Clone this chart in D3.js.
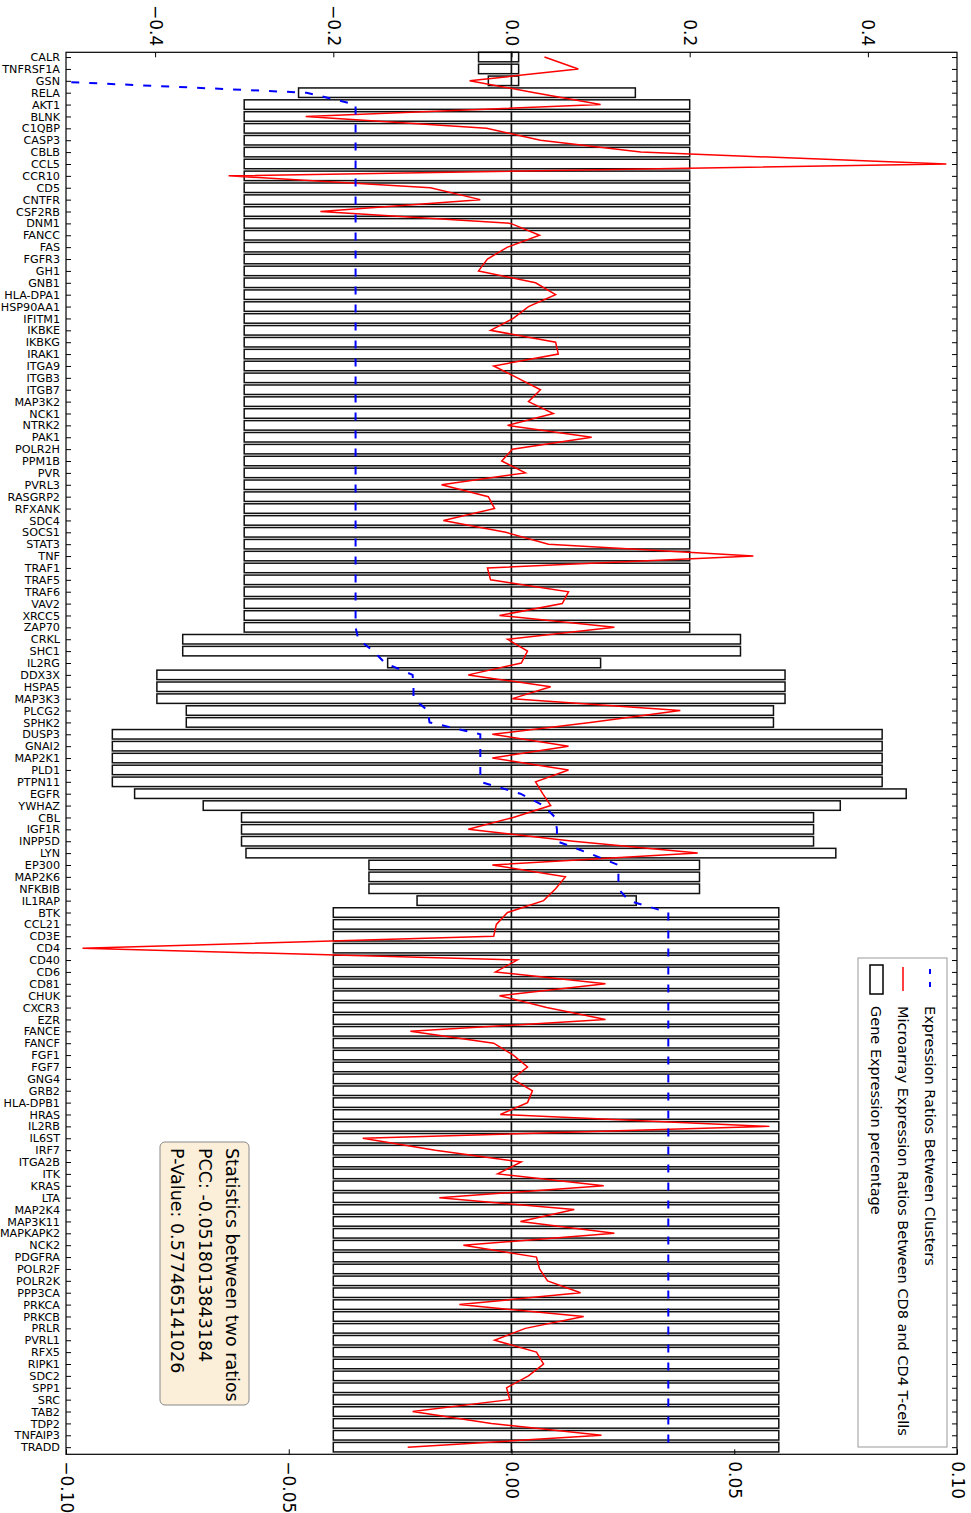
<!DOCTYPE html>
<html>
<head>
<meta charset="utf-8">
<script src="https://cdn.jsdelivr.net/npm/d3@7"></script>
<style>
  body { margin: 0; background: #fff; }
  svg text { font-family: "DejaVu Sans", sans-serif; fill: #000; }
  .geneLabel { font-size: 11.2px; }
  .tickLabel { font-size: 17px; }
  .legendText { font-size: 14.5px; }
  .statText { font-size: 17.5px; }
</style>
</head>
<body>
<div id="canvas"></div>
<script>
"use strict"
// canvas size
let svgWidth = 971;
let svgHeight = 1513;

// plot frame (the chart is drawn rotated: genes run down the page)
let plot = { left: 66, right: 957, top: 52.3, bottom: 1454.3 };

// genes, top to bottom
let genes = ["CALR","TNFRSF1A","GSN","RELA","AKT1","BLNK","C1QBP","CASP3","CBLB","CCL5",
    "CCR10","CD5","CNTFR","CSF2RB","DNM1","FANCC","FAS","FGFR3","GH1","GNB1",
    "HLA-DPA1","HSP90AA1","IFITM1","IKBKE","IKBKG","IRAK1","ITGA9","ITGB3","ITGB7","MAP3K2",
    "NCK1","NTRK2","PAK1","POLR2H","PPM1B","PVR","PVRL3","RASGRP2","RFXANK","SDC4",
    "SOCS1","STAT3","TNF","TRAF1","TRAF5","TRAF6","VAV2","XRCC5","ZAP70","CRKL",
    "SHC1","IL2RG","DDX3X","HSPA5","MAP3K3","PLCG2","SPHK2","DUSP3","GNAI2","MAP2K1",
    "PLD1","PTPN11","EGFR","YWHAZ","CBL","IGF1R","INPP5D","LYN","EP300","MAP2K6",
    "NFKBIB","IL1RAP","BTK","CCL21","CD3E","CD4","CD40","CD6","CD81","CHUK",
    "CXCR3","EZR","FANCE","FANCF","FGF1","FGF7","GNG4","GRB2","HLA-DPB1","HRAS",
    "IL2RB","IL6ST","IRF7","ITGA2B","ITK","KRAS","LTA","MAP2K4","MAP3K11","MAPKAPK2",
    "NCK2","PDGFRA","POLR2F","POLR2K","PPP3CA","PRKCA","PRKCB","PRLR","PVRL1","RFX5",
    "RIPK1","SDC2","SPP1","SRC","TAB2","TDP2","TNFAIP3","TRADD"];

// gene expression percentage bars (top axis): negative part and positive part
let barLow = [-0.037,-0.037,-0.026,-0.239,
    -0.3,-0.3,-0.3,-0.3,-0.3,-0.3,-0.3,-0.3,-0.3,-0.3,
    -0.3,-0.3,-0.3,-0.3,-0.3,-0.3,-0.3,-0.3,-0.3,-0.3,
    -0.3,-0.3,-0.3,-0.3,-0.3,-0.3,-0.3,-0.3,-0.3,-0.3,
    -0.3,-0.3,-0.3,-0.3,-0.3,-0.3,-0.3,-0.3,-0.3,-0.3,
    -0.3,-0.3,-0.3,-0.3,-0.3,
    -0.369,-0.369,-0.139,-0.398,-0.398,-0.398,-0.365,-0.365,
    -0.448,-0.448,-0.448,-0.448,-0.448,-0.423,-0.346,-0.303,-0.303,-0.303,-0.298,
    -0.16,-0.16,-0.16,-0.106,
    -0.2,-0.2,-0.2,-0.2,-0.2,-0.2,-0.2,-0.2,-0.2,-0.2,
    -0.2,-0.2,-0.2,-0.2,-0.2,-0.2,-0.2,-0.2,-0.2,-0.2,
    -0.2,-0.2,-0.2,-0.2,-0.2,-0.2,-0.2,-0.2,-0.2,-0.2,
    -0.2,-0.2,-0.2,-0.2,-0.2,-0.2,-0.2,-0.2,-0.2,-0.2,
    -0.2,-0.2,-0.2,-0.2,-0.2,-0.2];
let barHigh = [0.008,0.008,0.008,0.139,
    0.2,0.2,0.2,0.2,0.2,0.2,0.2,0.2,0.2,0.2,
    0.2,0.2,0.2,0.2,0.2,0.2,0.2,0.2,0.2,0.2,
    0.2,0.2,0.2,0.2,0.2,0.2,0.2,0.2,0.2,0.2,
    0.2,0.2,0.2,0.2,0.2,0.2,0.2,0.2,0.2,0.2,
    0.2,0.2,0.2,0.2,0.2,
    0.257,0.257,0.1,0.307,0.307,0.307,0.294,0.294,
    0.416,0.416,0.416,0.416,0.416,0.443,0.369,0.339,0.339,0.339,0.364,
    0.211,0.211,0.211,0.14,
    0.3,0.3,0.3,0.3,0.3,0.3,0.3,0.3,0.3,0.3,
    0.3,0.3,0.3,0.3,0.3,0.3,0.3,0.3,0.3,0.3,
    0.3,0.3,0.3,0.3,0.3,0.3,0.3,0.3,0.3,0.3,
    0.3,0.3,0.3,0.3,0.3,0.3,0.3,0.3,0.3,0.3,
    0.3,0.3,0.3,0.3,0.3,0.3];

// expression ratios between clusters (blue dashed, top axis)
let clusterRatio = [-0.528,-0.528,-0.528,-0.23,
    -0.175,-0.175,-0.175,-0.175,-0.175,-0.175,-0.175,-0.175,-0.175,-0.175,
    -0.175,-0.175,-0.175,-0.175,-0.175,-0.175,-0.175,-0.175,-0.175,-0.175,
    -0.175,-0.175,-0.175,-0.175,-0.175,-0.175,-0.175,-0.175,-0.175,-0.175,
    -0.175,-0.175,-0.175,-0.175,-0.175,-0.175,-0.175,-0.175,-0.175,-0.175,
    -0.175,-0.175,-0.175,-0.175,-0.175,
    -0.172,-0.155,-0.142,-0.111,-0.11,-0.11,-0.094,-0.092,
    -0.035,-0.035,-0.035,-0.035,-0.035,0.01,0.036,0.049,0.051,0.051,0.0865,
    0.12,0.12,0.12,0.1315,
    0.176,0.176,0.176,0.176,0.176,0.176,0.176,0.176,0.176,0.176,
    0.176,0.176,0.176,0.176,0.176,0.176,0.176,0.176,0.176,0.176,
    0.176,0.176,0.176,0.176,0.176,0.176,0.176,0.176,0.176,0.176,
    0.176,0.176,0.176,0.176,0.176,0.176,0.176,0.176,0.176,0.176,
    0.176,0.176,0.176,0.176,0.176,0.176];

// microarray expression ratios CD8 vs CD4 (red, bottom axis)
let microRatio = [0.0074,0.0150,-0.0094,0.0052,0.0200,-0.0462,-0.0056,0.0065,0.0290,0.0976,
    -0.0635,-0.0182,-0.0070,-0.0429,-0.0002,0.0063,-0.0009,-0.0054,-0.0074,0.0054,
    0.0099,0.0038,0.0004,-0.0047,0.0099,0.0105,-0.0040,0.0013,0.0065,0.0038,
    0.0094,-0.0009,0.0180,0.0002,-0.0022,0.0031,-0.0157,-0.0052,-0.0038,-0.0153,
    -0.0013,0.0083,0.0543,-0.0054,-0.0047,0.0128,0.0114,-0.0027,0.0231,-0.0009,
    0.0036,0.0022,-0.0097,0.0088,0.0002,0.0379,0.0177,-0.0043,0.0128,-0.0043,
    0.0128,0.0054,0.0070,0.0088,0.0004,-0.0097,0.0139,0.0418,-0.0043,0.0121,
    0.0099,0.0072,-0.0009,-0.0034,-0.0040,-0.0963,0.0013,-0.0036,0.0211,-0.0027,
    0.0079,0.0211,-0.0227,-0.0040,0.0004,0.0036,0.0002,0.0047,0.0036,-0.0025,
    0.0579,-0.0334,-0.0171,0.0022,-0.0031,0.0207,-0.0162,0.0141,0.0020,0.0231,
    -0.0108,0.0056,0.0063,0.0081,0.0155,-0.0117,0.0162,0.0031,-0.0038,0.0056,
    0.0072,0.0038,-0.0011,-0.0004,-0.0222,-0.0045,0.0202,-0.0233];

let topTicks = [-0.4, -0.2, 0.0, 0.2, 0.4];
let bottomTicks = [-0.10, -0.05, 0.00, 0.05, 0.10];

let legendLabels = ["Expression Ratios Between Clusters",
    "Microarray Expression Ratios Between CD8 and CD4 T-cells",
    "Gene Expression percentage"];
let statLines = ["Statistics between two ratios",
    "PCC: -0.0518013843184",
    "P-Value: 0.577465141026"];

let svg = d3.select("#canvas")
    .append("svg")
    .attr("width", svgWidth)
    .attr("height", svgHeight);

svg.append("rect")
    .attr("width", svgWidth)
    .attr("height", svgHeight)
    .attr("fill", "#ffffff");

// scales
let xTop = d3.scaleLinear().domain([-0.5, 0.5]).range([plot.left, plot.right]);
let xBottom = d3.scaleLinear().domain([-0.1, 0.1]).range([plot.left, plot.right]);
let yRow = d3.scaleLinear().domain([0, genes.length]).range([plot.top, plot.bottom]);

let rowData = genes.map(function(g, i){
    return { gene: g, i: i, low: barLow[i], high: barHigh[i],
             cluster: clusterRatio[i], micro: microRatio[i] };
});

svg.append("defs").append("clipPath")
    .attr("id", "plotClip")
    .append("rect")
    .attr("x", plot.left).attr("y", plot.top)
    .attr("width", plot.right - plot.left)
    .attr("height", plot.bottom - plot.top);

// bars: one for the negative part, one for the positive part
let barH = yRow(0.8) - yRow(0);
let bars = svg.append("g");
bars.selectAll(".barLow")
    .data(rowData)
    .join("rect")
    .attr("x", d => xTop(d.low))
    .attr("y", d => yRow(d.i))
    .attr("width", d => xTop(0) - xTop(d.low))
    .attr("height", barH)
    .attr("fill", "#fff")
    .attr("stroke", "#111")
    .attr("stroke-width", 1.5);
bars.selectAll(".barHigh")
    .data(rowData)
    .join("rect")
    .attr("x", xTop(0))
    .attr("y", d => yRow(d.i))
    .attr("width", d => xTop(d.high) - xTop(0))
    .attr("height", barH)
    .attr("fill", "#fff")
    .attr("stroke", "#111")
    .attr("stroke-width", 1.5);

// lines
let lines = svg.append("g").attr("clip-path", "url(#plotClip)");

let microLine = d3.line()
    .x(d => xBottom(d.micro))
    .y(d => yRow(d.i + 0.4));
lines.append("path")
    .datum(rowData)
    .attr("d", microLine)
    .attr("fill", "none")
    .attr("stroke", "#ff0000")
    .attr("stroke-width", 1.5);

let clusterLine = d3.line()
    .x(d => xTop(d.cluster))
    .y(d => yRow(d.i + 0.4));
lines.append("path")
    .datum(rowData)
    .attr("d", clusterLine)
    .attr("fill", "none")
    .attr("stroke", "#0000ff")
    .attr("stroke-width", 2)
    .attr("stroke-dasharray", "8,10");

// axes (ticks point inwards)
let geneTicks = rowData.map(d => d.i + 0.4);

let leftAxis = svg.append("g")
    .attr("transform", "translate(" + plot.left + ",0)")
    .call(d3.axisLeft(yRow).tickValues(geneTicks)
        .tickFormat(v => genes[Math.round(v - 0.4)])
        .tickSize(-5).tickPadding(6));
leftAxis.selectAll("text").attr("class", "geneLabel");

svg.append("g")
    .attr("transform", "translate(" + plot.right + ",0)")
    .call(d3.axisRight(yRow).tickValues(geneTicks).tickFormat("").tickSize(-5));

let topAxis = svg.append("g")
    .attr("transform", "translate(0," + plot.top + ")")
    .call(d3.axisTop(xTop).tickValues(topTicks).tickFormat(d3.format(".1f")).tickSize(-5));
topAxis.selectAll("text")
    .attr("class", "tickLabel")
    .attr("y", null).attr("dy", null)
    .attr("text-anchor", "end")
    .attr("dominant-baseline", "central")
    .attr("transform", "translate(0,-6) rotate(90)");

let bottomAxis = svg.append("g")
    .attr("transform", "translate(0," + plot.bottom + ")")
    .call(d3.axisBottom(xBottom).tickValues(bottomTicks).tickFormat(d3.format(".2f")).tickSize(-5));
bottomAxis.selectAll("text")
    .attr("class", "tickLabel")
    .attr("y", null).attr("dy", null)
    .attr("text-anchor", "start")
    .attr("dominant-baseline", "central")
    .attr("transform", "translate(0,7) rotate(90)");

svg.selectAll(".domain").remove();
svg.selectAll(".tick line").attr("stroke", "#000").attr("stroke-width", 1);

// frame
svg.append("rect")
    .attr("x", plot.left).attr("y", plot.top)
    .attr("width", plot.right - plot.left)
    .attr("height", plot.bottom - plot.top)
    .attr("fill", "none")
    .attr("stroke", "#000")
    .attr("stroke-width", 1.2);

// legend (rotated like the rest of the figure)
let lg = svg.append("g");
lg.append("rect")
    .attr("x", 858).attr("y", 958)
    .attr("width", 89).attr("height", 489)
    .attr("fill", "#fff")
    .attr("stroke", "#999")
    .attr("stroke-width", 1);

let legendX = [930, 903, 876];
lg.append("line")
    .attr("x1", legendX[0]).attr("x2", legendX[0])
    .attr("y1", 969).attr("y2", 992)
    .attr("stroke", "#0000ff").attr("stroke-width", 2)
    .attr("stroke-dasharray", "5,8");
lg.append("line")
    .attr("x1", legendX[1]).attr("x2", legendX[1])
    .attr("y1", 967).attr("y2", 991)
    .attr("stroke", "#ff0000").attr("stroke-width", 1.5);
lg.append("rect")
    .attr("x", 870).attr("y", 965)
    .attr("width", 13).attr("height", 29)
    .attr("fill", "#fff").attr("stroke", "#000").attr("stroke-width", 1.5);

legendLabels.forEach(function(t, i){
    lg.append("text")
        .attr("class", "legendText")
        .attr("dominant-baseline", "central")
        .attr("transform", "translate(" + legendX[i] + ",1006) rotate(90)")
        .text(t);
});

// statistics box
let sb = svg.append("g");
sb.append("rect")
    .attr("x", 160).attr("y", 1142)
    .attr("width", 89).attr("height", 263)
    .attr("rx", 5).attr("ry", 5)
    .attr("fill", "#fbefda")
    .attr("stroke", "#888")
    .attr("stroke-width", 1);

let statX = [232, 205, 177];
statLines.forEach(function(t, i){
    sb.append("text")
        .attr("class", "statText")
        .attr("dominant-baseline", "central")
        .attr("transform", "translate(" + statX[i] + ",1148) rotate(90)")
        .text(t);
});
</script>
</body>
</html>
